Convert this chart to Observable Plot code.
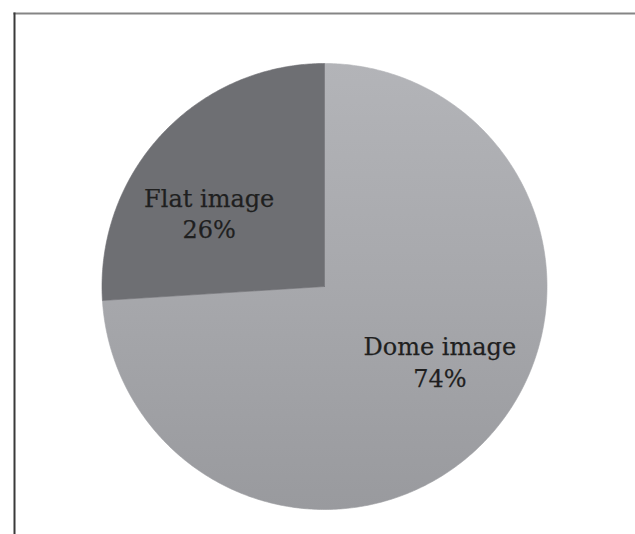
<!DOCTYPE html>
<html>
<head>
<meta charset="utf-8">
<script src="https://cdn.jsdelivr.net/npm/d3@7"></script>
<script src="https://cdn.jsdelivr.net/npm/@observablehq/plot@0.6"></script>
<style>
  html, body { margin: 0; padding: 0; background: #fff; }
  #chart svg { display: block; }
</style>
</head>
<body>
<div id="chart"></div>
<script>
// Data
const categories = ["Dome image", "Flat image"];
const shares = [74, 26];
const shareLabels = ["74%", "26%"];
const sliceColors = ["url(#domeGradient)", "#6e6f73"];

// Pie geometry (d3.pie: angle 0 at 12 o'clock, clockwise)
const arcs = d3.pie().sort(null).value(d => d)(shares);
const points = [];
arcs.forEach((a, i) => {
  const cat = categories[i];
  const n = Math.max(8, Math.ceil((a.endAngle - a.startAngle) / 0.01));
  points.push({x: 0, y: 0, cat});
  for (let k = 0; k <= n; ++k) {
    const t = a.startAngle + (a.endAngle - a.startAngle) * k / n;
    points.push({x: Math.sin(t), y: Math.cos(t), cat});
  }
  points.push({x: 0, y: 0, cat});
});

const labelRadius = 0.616;
const labelShift = -10.5 * Math.PI / 180;
const labelData = arcs.map((a, i) => {
  const t = (a.startAngle + a.endAngle) / 2 + labelShift;
  return {
    x: labelRadius * Math.sin(t),
    y: labelRadius * Math.cos(t),
    text: categories[i] + "\n" + shareLabels[i]
  };
});

const chart = Plot.plot({
  width: 635,
  height: 534,
  marginLeft: 14,
  marginTop: 13,
  marginRight: 0,
  marginBottom: 0,
  x: {domain: [-1, 1], range: [101.5, 546.5], axis: null},
  y: {domain: [-1, 1], range: [509, 63], axis: null},
  color: {type: "ordinal", domain: categories, range: sliceColors},
  style: {background: "#fff", overflow: "visible"},
  marks: [
    Plot.line(points, {x: "x", y: "y", z: "cat", fill: "cat", stroke: "cat", strokeWidth: 0.6}),
    Plot.text(labelData, {
      x: "x", y: "y", text: "text",
      fontSize: 24,
      fontFamily: "DejaVu Serif",
      lineHeight: 1.33,
      fill: "#1f1f1f",
      stroke: "#1f1f1f",
      strokeWidth: 0.25
    }),
    Plot.frame({anchor: "top", stroke: "#858585", strokeWidth: 2.2}),
    Plot.frame({anchor: "left", stroke: "#3a3a3a", strokeWidth: 2})
  ]
});

// gradient for the large slice
const ns = "http://www.w3.org/2000/svg";
const defs = document.createElementNS(ns, "defs");
const grad = document.createElementNS(ns, "linearGradient");
grad.setAttribute("id", "domeGradient");
grad.setAttribute("x1", "0"); grad.setAttribute("y1", "0");
grad.setAttribute("x2", "0"); grad.setAttribute("y2", "1");
[["0", "#b3b4b8"], ["0.5", "#a7a8ac"], ["1", "#999a9e"]].forEach(([o, c]) => {
  const s = document.createElementNS(ns, "stop");
  s.setAttribute("offset", o);
  s.setAttribute("stop-color", c);
  grad.appendChild(s);
});
defs.appendChild(grad);
chart.insertBefore(defs, chart.firstChild);

document.getElementById("chart").appendChild(chart);
</script>
</body>
</html>
